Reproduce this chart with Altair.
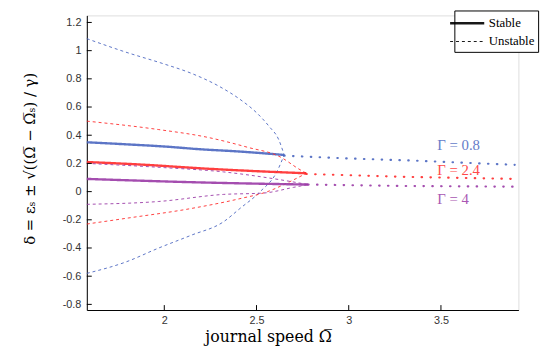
import altair as alt
import pandas as pd

gammas = ["Γ = 0.8", "Γ = 2.4", "Γ = 4"]
colors = ["#4a66c0", "#ff2a2a", "#9a3aa6"]

# Γ = 0.8 (blue)
s08_x = [1.58, 1.8, 2.0, 2.2, 2.4, 2.65]
s08_y = [0.35, 0.335, 0.32, 0.30, 0.285, 0.26]
u08a_x = [1.58, 1.79, 2.0, 2.145, 2.3, 2.41, 2.5, 2.57, 2.62, 2.65]
u08a_y = [1.085, 0.99, 0.905, 0.84, 0.745, 0.655, 0.56, 0.46, 0.37, 0.26]
u08b_x = [1.58, 1.79, 1.97, 2.145, 2.32, 2.41, 2.52, 2.61, 2.65]
u08b_y = [-0.58, -0.50, -0.40, -0.31, -0.215, -0.12, 0.0, 0.14, 0.26]
c08_x = [2.65, 3.0, 3.35, 3.9]
c08_y = [0.255, 0.235, 0.22, 0.19]

# Γ = 2.4 (red)
s24_x = [1.58, 1.9, 2.2, 2.5, 2.77]
s24_y = [0.21, 0.19, 0.165, 0.145, 0.13]
u24a_x = [1.58, 1.97, 2.235, 2.45, 2.63, 2.73, 2.77]
u24a_y = [0.50, 0.44, 0.385, 0.315, 0.245, 0.16, 0.13]
u24b_x = [1.58, 1.79, 2.145, 2.41, 2.56, 2.68, 2.77]
u24b_y = [-0.23, -0.19, -0.12, -0.05, 0.0, 0.07, 0.13]
c24_x = [2.77, 3.3, 3.9]
c24_y = [0.125, 0.105, 0.09]

# Γ = 4 (purple)
s4_x = [1.58, 2.2, 2.78]
s4_y = [0.09, 0.065, 0.05]
u4a_x = [1.58, 2.0, 2.32, 2.6, 2.78]
u4a_y = [0.20, 0.17, 0.14, 0.09, 0.05]
u4b_x = [1.58, 1.97, 2.32, 2.54, 2.7, 2.78]
u4b_y = [-0.09, -0.07, -0.02, -0.01, 0.03, 0.05]
c4_x = [2.78, 3.3, 3.9]
c4_y = [0.05, 0.04, 0.035]

label_x = [3.48, 3.48, 3.48]
label_y = [0.33, 0.155, -0.055]

x_ticks = [2, 2.5, 3, 3.5]
y_ticks = [-0.8, -0.6, -0.4, -0.2, 0, 0.2, 0.4, 0.6, 0.8, 1, 1.2]

rows = []
def add(branch, gamma, kind, xs, ys):
    for a, b in zip(xs, ys):
        rows.append({"x": a, "y": b, "gamma": gamma, "kind": kind, "branch": branch})

add("s08", gammas[0], "Stable", s08_x, s08_y)
add("u08a", gammas[0], "Unstable", u08a_x, u08a_y)
add("u08b", gammas[0], "Unstable", u08b_x, u08b_y)
add("c08", gammas[0], "cont", c08_x, c08_y)
add("s24", gammas[1], "Stable", s24_x, s24_y)
add("u24a", gammas[1], "Unstable", u24a_x, u24a_y)
add("u24b", gammas[1], "Unstable", u24b_x, u24b_y)
add("c24", gammas[1], "cont", c24_x, c24_y)
add("s4", gammas[2], "Stable", s4_x, s4_y)
add("u4a", gammas[2], "Unstable", u4a_x, u4a_y)
add("u4b", gammas[2], "Unstable", u4b_x, u4b_y)
add("c4", gammas[2], "cont", c4_x, c4_y)
df = pd.DataFrame(rows)

labels = pd.DataFrame({"x": label_x, "y": label_y, "gamma": gammas})
xt = pd.DataFrame({"x": x_ticks})
yt = pd.DataFrame({"y": y_ticks})

W, H = 438, 299
xscale = alt.Scale(domain=[1.58, 3.92], nice=False, zero=False)
yscale = alt.Scale(domain=[-0.84, 1.25], nice=False, zero=False)
cscale = alt.Scale(domain=gammas, range=colors)

axis_common = dict(grid=False, ticks=False, tickSize=0, domainColor="black", labelOverlap=False,
                   labelFont="Liberation Sans", labelFontSize=11, labelColor="#333333")

xaxis = alt.Axis(
    values=x_ticks, labelPadding=5, labelExpr="'' + datum.value",
    title="journal speed Ω̅", titleFont="DejaVu Serif", titleFontSize=16,
    titleFontWeight="normal", titleColor="black", titleX=184, titleY=19,
    titleBaseline="top", **axis_common)
yaxis = alt.Axis(
    values=y_ticks, labelPadding=6, labelExpr="'' + datum.value",
    title="δ = εₛ ± √((Ω̅ − Ω̅ₛ) / γ)", titleFont="DejaVu Serif", titleFontSize=15,
    titleFontWeight="normal", titleColor="black", titleX=-58, titleY=145,
    titleBaseline="middle", titleAngle=270, **axis_common)
xenc = alt.X("x:Q", scale=xscale, axis=xaxis)
yenc = alt.Y("y:Q", scale=yscale, axis=yaxis)

main = alt.Chart(df).transform_filter(alt.datum.kind != "cont").mark_line(
    opacity=0.9, interpolate="monotone").encode(
    x=xenc, y=yenc,
    color=alt.Color("gamma:N", scale=cscale, legend=None),
    detail="branch:N",
    strokeDash=alt.StrokeDash("kind:N", scale=alt.Scale(domain=["Stable", "Unstable"], range=[[1, 0], [3, 3]]),
                              legend=alt.Legend(orient="none", legendX=373, legendY=-5, title=None,
                                                strokeColor="black", fillColor="white", padding=3,
                                                symbolType="M-2,0H2", symbolSize=300,
                                                symbolStrokeColor="black", symbolStrokeWidth=1.5,
                                                labelFont="Liberation Serif", labelFontSize=13,
                                                labelColor="black", rowPadding=2, labelOffset=12)),
    strokeWidth=alt.StrokeWidth("kind:N", scale=alt.Scale(domain=["Stable", "Unstable"], range=[2.4, 1]),
                                legend=None),
)

cont = alt.Chart(df).transform_filter(alt.datum.kind == "cont").mark_line(
    strokeDash=[0.5, 8.5], strokeWidth=2.2, strokeCap="round", opacity=0.9).encode(
    x=xenc, y=yenc,
    color=alt.Color("gamma:N", scale=cscale, legend=None),
    detail="branch:N",
)

text = alt.Chart(labels).mark_text(align="left", baseline="middle", font="Liberation Serif",
                                   fontSize=15, opacity=0.85).encode(
    x=xenc, y=yenc, text="gamma:N",
    color=alt.Color("gamma:N", scale=cscale, legend=None),
)

xticks = alt.Chart(xt).mark_rule(color="black", strokeWidth=1).encode(
    x=xenc, y=alt.value(H), y2=alt.value(H - 5))
yticks = alt.Chart(yt).mark_rule(color="black", strokeWidth=1).encode(
    y=yenc, x=alt.value(0), x2=alt.value(5))

chart = alt.layer(main, cont, text, xticks, yticks).properties(
    width=W, height=H,
    padding={"left": 80, "top": 5, "right": 28, "bottom": 34},
    autosize=alt.AutoSizeParams(type="none"),
).configure_view(stroke=None).configure(background="white")

chart.save("out.html", embed_options={"renderer": "svg", "actions": False})
